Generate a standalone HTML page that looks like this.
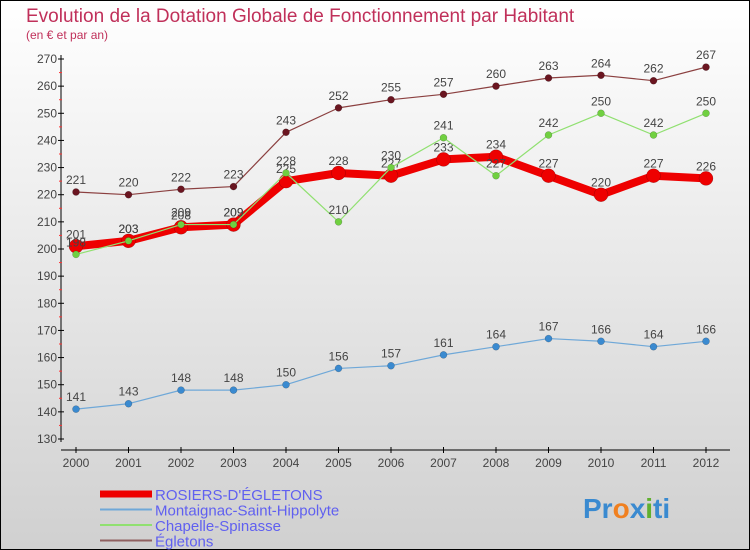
<!DOCTYPE html>
<html><head><meta charset="utf-8"><style>
body{margin:0}
svg{display:block;font-family:"Liberation Sans",sans-serif}
</style></head><body>
<svg id="c" width="750" height="550">
<defs><linearGradient id="bg" x1="0" y1="0" x2="0" y2="1"><stop offset="0" stop-color="#ffffff"/><stop offset="1" stop-color="#d0d0d0"/></linearGradient></defs>
<rect x="0.5" y="0.5" width="749" height="549" fill="url(#bg)" stroke="#000"/>
<text x="26" y="22" font-size="19" fill="#c0305a">Evolution de la Dotation Globale de Fonctionnement par Habitant</text>
<text x="26" y="39" font-size="12" fill="#c0305a">(en € et par an)</text>
<g id="axes"></g><g id="series"></g><g id="legend"></g>
<text x="583" y="518" font-size="28" font-weight="bold" fill="#3a8ad0">Pr<tspan fill="#f08020">o</tspan>x<tspan fill="#60b030">i</tspan>ti</text>
</svg>
<script>
const years=[2000,2001,2002,2003,2004,2005,2006,2007,2008,2009,2010,2011,2012];
const rosiers=[201,203,208,209,225,228,227,233,234,227,220,227,226];
const montaignac=[141,143,148,148,150,156,157,161,164,167,166,164,166];
const chapelle=[198,203,209,209,228,210,230,241,227,242,250,242,250];
const egletons=[221,220,222,223,243,252,255,257,260,263,264,262,267];
const yTicks=[130,140,150,160,170,180,190,200,210,220,230,240,250,260,270];
const names=["ROSIERS-D'ÉGLETONS","Montaignac-Saint-Hippolyte","Chapelle-Spinasse","Égletons"];
const NS="http://www.w3.org/2000/svg";
const X=i=>76+i*52.5, Y=v=>439-(v-130)*380/140;
function mk(p,t,a){const e=document.createElementNS(NS,t);for(const k in a)e.setAttribute(k,a[k]);p.appendChild(e);return e;}
const ax=document.getElementById('axes');
let l=mk(ax,'line',{x1:61,y1:55,x2:61,y2:442,stroke:'#000'});

l=mk(ax,'line',{x1:61,y1:450,x2:730,y2:450,stroke:'#000'});

yTicks.forEach((v,i)=>{mk(ax,'line',{x1:58,x2:64,y1:Y(v),y2:Y(v),stroke:'#000'});
 if(i<yTicks.length-1)mk(ax,'line',{x1:59,x2:62,y1:Y(v+5),y2:Y(v+5),stroke:'#f33'});
 const t=mk(ax,'text',{x:57,y:Y(v)+4,'font-size':12,fill:'#444','text-anchor':'end'});t.textContent=v;
 });
years.forEach((y,i)=>{mk(ax,'line',{x1:X(i),x2:X(i),y1:447,y2:453,stroke:'#000'});
 const t=mk(ax,'text',{x:X(i),y:467,'font-size':12,fill:'#444','text-anchor':'middle'});t.textContent=y;
 });
const sg=document.getElementById('series');
function draw(d,col,w,r,fill,name){const g=mk(sg,'g',{});
 
 mk(g,'polyline',{points:d.map((v,i)=>X(i)+','+Y(v)).join(' '),fill:'none',stroke:col,'stroke-width':w,'stroke-linejoin':'round'});
 d.forEach((v,i)=>{const c=mk(g,'circle',{cx:X(i),cy:Y(v),r:r,fill:fill,stroke:'rgba(0,0,0,0.3)','stroke-width':0.5});
  
  const t=mk(g,'text',{x:X(i),y:Y(v)-8,'font-size':12,fill:'#444','text-anchor':'middle'});t.textContent=v;
  });}
draw(montaignac,'#6fa8d8',1.2,3.5,'#3a8ad0','series-montaignac');
draw(egletons,'#8b4040',1.2,3.5,'#6a1520','series-egletons');
draw(rosiers,'#ee0000',8,7,'#ee0000','series-rosiers');
draw(chapelle,'#90e070',1.2,3.5,'#70d040','series-chapelle');
const lg=document.getElementById('legend');
const lc=['#ee0000','#6fa8d8','#90e070','#906060'],lw=[7,2,2,2];
names.forEach((n,i)=>{const yy=494+i*15.5;const g=mk(lg,'g',{});
 
 mk(g,'line',{x1:100,x2:152,y1:yy,y2:yy,stroke:lc[i],'stroke-width':lw[i]});
 const t=mk(g,'text',{x:155,y:yy+6,'font-size':15,fill:'#6060f0'});t.textContent=n;});
</script>
</body></html>
